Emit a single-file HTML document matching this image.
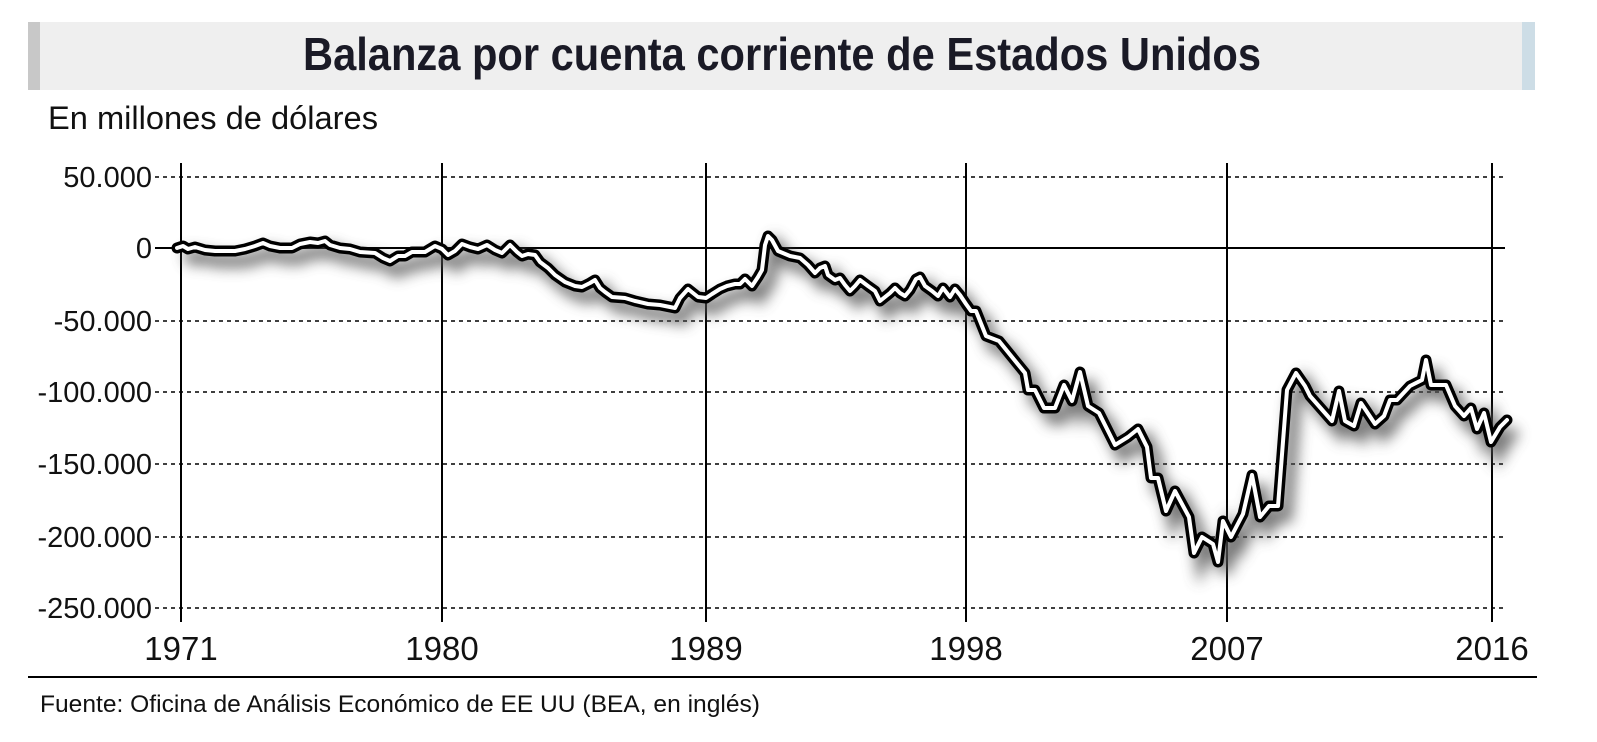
<!DOCTYPE html>
<html><head><meta charset="utf-8"><style>
html,body{margin:0;padding:0;background:#fff;}
svg{display:block;}
text{font-family:"Liberation Sans",sans-serif;fill:#111;}
</style></head><body>
<svg width="1597" height="742" viewBox="0 0 1597 742" xmlns="http://www.w3.org/2000/svg">
<defs>
<filter id="sh" x="-10%" y="-10%" width="130%" height="140%">
<feGaussianBlur stdDeviation="7"/>
</filter>
</defs>
<rect x="28" y="22" width="1507" height="68" fill="#efefef"/>
<rect x="28" y="22" width="12" height="68" fill="#c8c8c8"/>
<rect x="1522" y="22" width="13" height="68" fill="#cddde6"/>
<text x="782" y="70" text-anchor="middle" font-size="46" font-weight="bold" textLength="958" lengthAdjust="spacingAndGlyphs" style="fill:#1a1a26">Balanza por cuenta corriente de Estados Unidos</text>
<text x="48" y="129" font-size="32" textLength="330" lengthAdjust="spacingAndGlyphs">En millones de dólares</text>
<g stroke="#000" stroke-width="1.6" stroke-dasharray="4,4">
<line x1="155" y1="177" x2="1505" y2="177"/>
<line x1="155" y1="321" x2="1505" y2="321"/>
<line x1="155" y1="392" x2="1505" y2="392"/>
<line x1="155" y1="464" x2="1505" y2="464"/>
<line x1="155" y1="537" x2="1505" y2="537"/>
<line x1="155" y1="608" x2="1505" y2="608"/>
</g>
<line x1="155" y1="248" x2="1505" y2="248" stroke="#000" stroke-width="2"/>
<g stroke="#000" stroke-width="2">
<line x1="181" y1="163" x2="181" y2="622"/>
<line x1="442" y1="163" x2="442" y2="622"/>
<line x1="706" y1="163" x2="706" y2="622"/>
<line x1="966" y1="163" x2="966" y2="622"/>
<line x1="1227" y1="163" x2="1227" y2="622"/>
<line x1="1492" y1="163" x2="1492" y2="622"/>
</g>
<g font-size="29" text-anchor="end">
<text x="152" y="187">50.000</text>
<text x="152" y="258">0</text>
<text x="152" y="331">-50.000</text>
<text x="152" y="402">-100.000</text>
<text x="152" y="474">-150.000</text>
<text x="152" y="547">-200.000</text>
<text x="152" y="618">-250.000</text>
</g>
<g font-size="33" text-anchor="middle">
<text x="181" y="660">1971</text>
<text x="442" y="660">1980</text>
<text x="706" y="660">1989</text>
<text x="966" y="660">1998</text>
<text x="1227" y="660">2007</text>
<text x="1492" y="660">2016</text>
</g>
<line x1="28" y1="677" x2="1537" y2="677" stroke="#000" stroke-width="2"/>
<text x="40" y="712" font-size="24" textLength="720" lengthAdjust="spacingAndGlyphs">Fuente: Oficina de Análisis Económico de EE UU (BEA, en inglés)</text>
<g id="ln" fill="none" stroke-linejoin="round" stroke-linecap="round">
<path id="p" d="M177,248 L183,246 188,249 195,247 205,250 215,251 235,251 245,249 255,246 263,243 270,246 280,248 292,248 300,244 310,242 318,243 325,241 330,245 340,248 350,249 360,252 375,253 383,258 390,261 398,256 405,256 412,252 425,252 435,246 442,249 448,255 455,251 462,244 470,247 478,249 487,245 495,250 502,253 510,245 517,252 522,256 528,254 535,255 540,262 548,268 555,275 565,282 575,286 582,287 590,283 595,280 600,288 605,292 612,297 625,298 635,301 648,304 660,305 670,307 675,308 680,298 688,289 698,297 706,298 712,294 720,289 727,286 735,284 740,284 745,279 752,286 758,277 762,270 765,245 768,236 772,240 778,251 790,256 800,258 808,265 815,273 820,268 825,266 828,275 835,280 840,278 845,285 850,291 855,286 860,280 868,286 875,291 880,301 885,297 890,293 895,288 900,293 905,296 910,290 916,279 920,277 925,286 932,291 938,296 943,288 950,297 955,289 960,295 966,304 971,311 976,311 986,336 999,341 1025,373 1028,390 1035,390 1044,408 1055,408 1064,385 1072,401 1080,372 1088,406 1099,413 1115,445 1128,437 1138,429 1147,447 1151,478 1158,478 1166,511 1175,491 1189,517 1194,553 1202,537 1213,544 1218,562 1223,521 1231,537 1243,514 1252,475 1260,517 1269,506 1278,506 1287,390 1296,373 1305,386 1310,396 1332,421 1339,391 1345,421 1354,426 1361,403 1375,424 1384,416 1390,400 1397,400 1410,386 1422,380 1426,360 1431,385 1446,385 1455,406 1464,416 1471,408 1477,429 1484,413 1491,442 1500,427 1507,420"/>
</g>
<use href="#p" transform="translate(8,10)" stroke="#555" stroke-width="13" fill="none" filter="url(#sh)" opacity="0.8"/>
<use href="#p" stroke="#000" stroke-width="11" fill="none" stroke-linejoin="round" stroke-linecap="round"/>
<use href="#p" stroke="#fff" stroke-width="4" fill="none" stroke-linejoin="round" stroke-linecap="round"/>
</svg>
</body></html>
